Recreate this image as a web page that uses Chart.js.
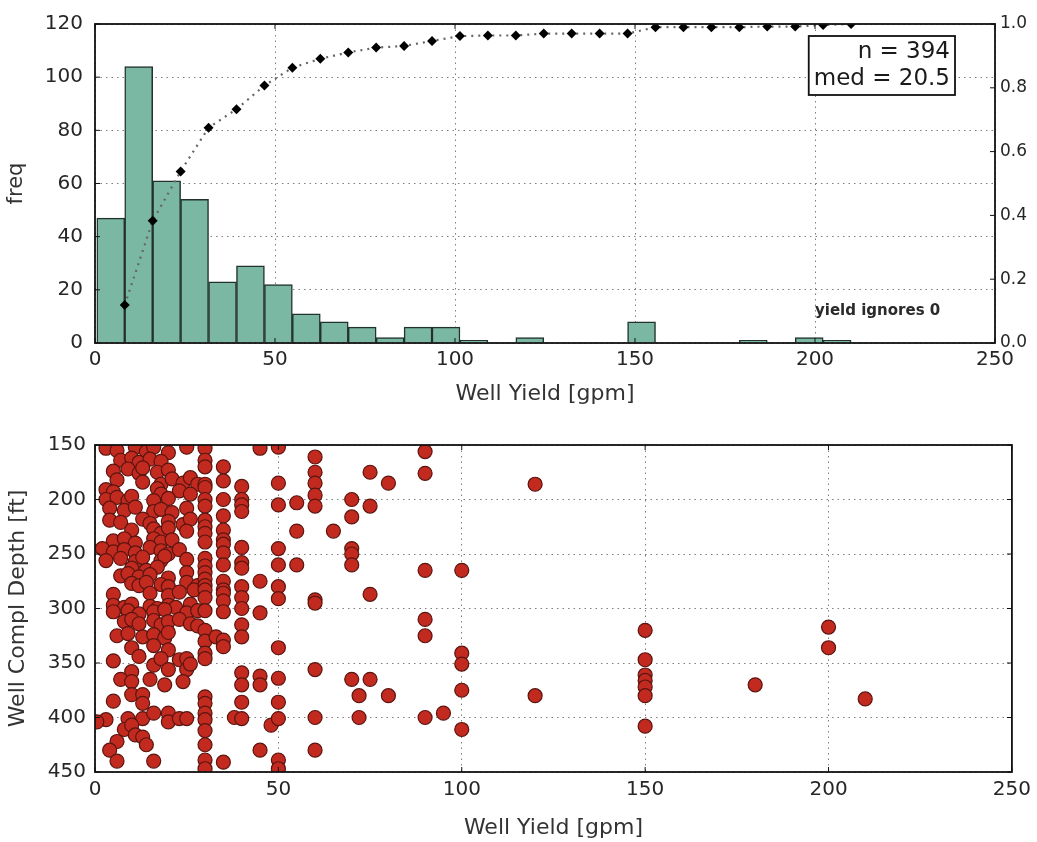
<!DOCTYPE html>
<html>
<head>
<meta charset="utf-8">
<script src="https://cdn.jsdelivr.net/npm/chart.js@4.4.1/dist/chart.umd.min.js"></script>
<style>
  body { margin: 0; background: #fff; }
  #wrap { position: relative; width: 1037px; height: 842px; }
  canvas { position: absolute; left: 0; }
  #histChart { top: 0; }
  #depthChart { top: 420px; }
</style>
</head>
<body>
<div id="wrap">
  <canvas id="histChart" width="1037" height="420"></canvas>
  <canvas id="depthChart" width="1037" height="422"></canvas>
</div>
<script>
// histogram bins (gpm) and counts
const binEdges = [0.5, 8.26, 16.02, 23.78, 31.54, 39.3, 47.06, 54.82, 62.58, 70.34, 78.1, 85.86, 93.62, 101.38,
  109.14, 116.9, 124.66, 132.42, 140.18, 147.94, 155.7, 163.46, 171.22, 178.98, 186.74, 194.5, 202.26, 210.02];
const binCounts = [47, 104, 61, 54, 23, 29, 22, 11, 8, 6, 2, 6, 6, 1, 0, 2, 0, 0, 0, 8, 0, 0, 0, 1, 0, 2, 1];
// cumulative fraction at each bin's right edge
const cdfValues = [0.119, 0.383, 0.538, 0.675, 0.733, 0.807, 0.863, 0.891, 0.911, 0.926, 0.931, 0.947, 0.962,
  0.964, 0.964, 0.970, 0.970, 0.970, 0.970, 0.990, 0.990, 0.990, 0.990, 0.992, 0.992, 0.997, 1.0];

const sampleCount = 394;
const medianYield = 20.5;

const yieldTicks = [0, 50, 100, 150, 200, 250];
const freqTicks = [0, 20, 40, 60, 80, 100, 120];
const cdfTicks = [0, 0.2, 0.4, 0.6, 0.8, 1.0];
const depthTicks = [150, 200, 250, 300, 350, 400, 450];

// [yield gpm, completion depth ft]
const yieldDepthPairs = [
  [3,153],[6,155],[11,152],[14,156],[16,152],[20,157],[25,152],
  [7,164],[10,162],[12,166],[15,163],[18,165],
  [5,174],[9,172],[12,176],[13,171],[17,175],[20,173],
  [6,182],[13,184],[18,186],[21,181],[24,185],[26,180],[28,186],
  [3,191],[5,193],[17,190],[18,195],[23,192],[26,195],
  [3,200],[6,198],[9,201],[10,197],[16,201],[20,199],
  [4,208],[8,210],[11,207],[16,211],[18,209],[21,212],[25,208],
  [4,219],[7,221],[13,218],[15,222],[20,220],[24,223],[26,218],
  [10,228],[16,227],[18,231],[20,226],[25,229],
  [5,238],[8,236],[11,240],[16,236],[18,239],[21,237],
  [2,245],[5,248],[8,246],[11,249],[15,244],[18,247],[20,250],[23,246],
  [3,256],[7,254],[11,257],[13,253],[18,256],[19,252],[25,255],
  [10,263],[14,265],[17,262],[25,267],
  [7,270],[9,268],[12,271],[15,269],[20,272],
  [10,277],[12,279],[14,276],[18,278],[20,280],[25,276],[28,279],
  [5,287],[15,286],[20,288],[23,285],[27,283],
  [5,297],[8,299],[10,296],[15,298],[17,300],[20,297],[22,299],[26,296],
  [5,303],[9,302],[12,305],[16,303],[19,301],[25,304],[28,302],
  [8,312],[10,310],[12,314],[16,311],[18,315],[20,312],[23,310],[26,314],[28,316],
  [6,325],[9,323],[13,326],[16,324],[19,327],[20,322],
  [10,336],[16,334],[20,338],
  [5,348],[12,344],[10,358],[16,352],[18,346],[20,356],[23,347],[25,346],[25,356],[26,351],
  [7,365],[10,367],[15,365],[19,370],[24,367],
  [10,379],[13,379],[13,387],[5,385],
  [3,402],[9,401],[13,401],[16,396],[20,396],[20,404],[23,401],[25,401],[0.5,404],
  [8,411],[10,407],[11,416],[13,418],[6,422],[14,425],[4,430],
  [6,440],[16,440],
  [30,153],[30,164],[30,170],[30,186],[30,189],[30,200],[30,206],[30,219],[30,225],[30,231],[30,239],
  [30,254],[30,261],[30,267],[30,273],[30,279],[30,283],[30,290],[30,302],[30,320],[30,330],[30,341],
  [30,346],[30,381],[30,387],[30,396],[30,402],[30,412],[30,425],[30,439],[30,447],
  [33,326],
  [35,170],[35,183],[35,200],[35,215],[35,228],[35,237],[35,241],[35,249],[35,260],[35,275],[35,283],
  [35,286],[35,293],[35,303],[35,329],[35,335],[35,441],
  [38,400],
  [40,188],[40,200],[40,205],[40,211],[40,244],[40,258],[40,263],[40,280],[40,290],[40,300],[40,315],
  [40,326],[40,359],[40,370],[40,386],[40,401],
  [45,153],[45,275],[45,304],[45,362],[45,370],[45,430],
  [48,407],
  [50,152],[50,185],[50,205],[50,245],[50,260],[50,280],[50,291],[50,336],[50,364],[50,386],[50,401],
  [50,439],[50,447],
  [55,203],[55,229],[55,260],
  [60,161],[60,175],[60,185],[60,196],[60,206],[60,292],[60,295],[60,356],[60,400],[60,430],
  [65,229],
  [70,200],[70,216],[70,245],[70,250],[70,260],[70,365],
  [72,380],[72,400],
  [75,175],[75,206],[75,287],[75,365],
  [80,185],[80,380],
  [90,156],[90,176],[90,265],[90,310],[90,325],[90,400],
  [95,396],
  [100,265],[100,341],[100,351],[100,375],[100,411],
  [120,186],[120,380],
  [150,320],[150,347],[150,361],[150,366],[150,372],[150,380],[150,408],
  [180,370],
  [200,317],[200,336],
  [210,383]
];

Chart.defaults.font.family = '"DejaVu Sans", sans-serif';
const gridColor = 'rgba(0,0,0,0.5)';
const tickColor = '#262626';
const titleColor = '#333';

const fixedTicks = (arr) => (scale) => { scale.ticks = arr.map(v => ({ value: v })); };

// black frame round the plot area with matplotlib-style inward ticks
const framePlugin = {
  id: 'frame',
  afterDraw(chart, args, opts) {
    const { ctx, chartArea: a } = chart;
    ctx.save();
    ctx.strokeStyle = '#111';
    ctx.lineWidth = 1;
    const tl = 5;
    Object.values(chart.scales).forEach(s => {
      s.ticks.forEach(t => {
        const p = s.getPixelForValue(t.value);
        ctx.beginPath();
        if (s.isHorizontal()) {
          ctx.moveTo(p, a.bottom); ctx.lineTo(p, a.bottom - tl);
          ctx.moveTo(p, a.top); ctx.lineTo(p, a.top + tl);
        } else {
          if (s.position === 'left' || opts.bothY) {
            ctx.moveTo(a.left, p); ctx.lineTo(a.left + tl, p);
          }
          if (s.position === 'right' || opts.bothY) {
            ctx.moveTo(a.right, p); ctx.lineTo(a.right - tl, p);
          }
        }
        ctx.stroke();
      });
    });
    ctx.lineWidth = 1.8;
    ctx.strokeRect(a.left, a.top, a.right - a.left, a.bottom - a.top);
    ctx.restore();
  }
};

// n / median box and the note, placed in axes fractions
const statsPlugin = {
  id: 'stats',
  afterDraw(chart) {
    const { ctx, chartArea: a } = chart;
    const w = a.right - a.left, h = a.bottom - a.top;
    ctx.save();
    ctx.font = '23px "DejaVu Sans"';
    ctx.textAlign = 'right';
    ctx.textBaseline = 'middle';
    const lines = ['n = ' + sampleCount, 'med = ' + medianYield];
    const boxRight = a.right - 40, boxTop = a.top + 12;
    const boxW = Math.max(...lines.map(l => ctx.measureText(l).width)) + 10;
    const boxH = 59;
    ctx.fillStyle = '#fff';
    ctx.fillRect(boxRight - boxW, boxTop, boxW, boxH);
    ctx.strokeStyle = '#111';
    ctx.lineWidth = 1.8;
    ctx.strokeRect(boxRight - boxW, boxTop, boxW, boxH);
    ctx.fillStyle = '#1a1a1a';
    ctx.fillText(lines[0], boxRight - 5, boxTop + 16);
    ctx.fillText(lines[1], boxRight - 5, boxTop + 43);

    ctx.font = 'bold 15px "DejaVu Sans"';
    ctx.textAlign = 'left';
    ctx.fillStyle = '#2a2a2a';
    ctx.fillText('yield ignores 0', a.left + 0.8 * w, a.top + 0.9 * h);
    ctx.restore();
  }
};

const barPoints = binCounts.map((c, i) => ({ x: (binEdges[i] + binEdges[i + 1]) / 2, y: c }));
const cdfPoints = cdfValues.map((v, i) => ({ x: binEdges[i + 1], y: v }));

new Chart(document.getElementById('histChart'), {
  type: 'bar',
  data: {
    datasets: [
      {
        type: 'line',
        data: cdfPoints,
        yAxisID: 'y2',
        borderColor: '#666',
        borderWidth: 2.2,
        borderDash: [2, 5],
        pointStyle: 'rectRot',
        pointRadius: 5,
        pointBackgroundColor: '#000',
        pointBorderColor: '#000',
        pointBorderWidth: 0,
        fill: false,
        tension: 0,
        order: 0
      },
      {
        type: 'bar',
        data: barPoints,
        yAxisID: 'y',
        backgroundColor: '#7ab8a4',
        borderColor: '#24322e',
        borderWidth: 1.5,
        categoryPercentage: 1,
        barPercentage: 1,
        order: 1
      }
    ]
  },
  options: {
    responsive: false,
    animation: false,
    devicePixelRatio: 1,
    layout: { padding: { top: 21, left: 0, right: 0, bottom: 0 } },
    plugins: {
      legend: { display: false },
      tooltip: { enabled: false },
      frame: { bothY: false }
    },
    scales: {
      x: {
        type: 'linear', min: 0, max: 250, offset: false, z: 1,
        afterBuildTicks: fixedTicks(yieldTicks),
        afterFit: (s) => { s.height = 77; },
        grid: { offset: false, color: gridColor, lineWidth: 1, drawTicks: false },
        border: { display: false, dash: [1.5, 4] },
        ticks: { font: { size: 20 }, color: tickColor, padding: 5, maxRotation: 0, autoSkip: false },
        title: { display: true, text: 'Well Yield [gpm]', font: { size: 22 }, color: titleColor,
                 padding: { top: 0, bottom: 13 } }
      },
      y: {
        position: 'left', min: 0, max: 120, z: 1,
        afterBuildTicks: fixedTicks(freqTicks),
        afterFit: (s) => { s.width = 95; },
        grid: { color: gridColor, lineWidth: 1, drawTicks: false },
        border: { display: false, dash: [1.5, 4] },
        ticks: { font: { size: 20 }, color: tickColor, padding: 12 },
        title: { display: true, text: 'freq', font: { size: 21 }, color: titleColor,
                 padding: { top: 4, bottom: 0 } }
      },
      y2: {
        position: 'right', min: 0, max: 1, z: 1,
        afterBuildTicks: fixedTicks(cdfTicks),
        afterFit: (s) => { s.width = 42; },
        grid: { display: false, drawTicks: false },
        border: { display: false },
        ticks: { font: { size: 17 }, color: tickColor, padding: 5, callback: (v) => v.toFixed(1) }
      }
    }
  },
  plugins: [framePlugin, statsPlugin]
});

new Chart(document.getElementById('depthChart'), {
  type: 'scatter',
  data: {
    datasets: [{
      data: yieldDepthPairs.map(([x, y]) => ({ x, y })),
      backgroundColor: '#c22a1f',
      borderColor: '#5a1510',
      borderWidth: 1.2,
      pointRadius: 7,
      clip: 0
    }]
  },
  options: {
    responsive: false,
    animation: false,
    devicePixelRatio: 1,
    layout: { padding: { top: 25, left: 0, right: 20, bottom: 0 } },
    plugins: {
      legend: { display: false },
      tooltip: { enabled: false },
      frame: { bothY: true }
    },
    scales: {
      x: {
        type: 'linear', min: 0, max: 250, z: 1,
        afterBuildTicks: fixedTicks(yieldTicks),
        afterFit: (s) => { s.height = 70; },
        grid: { color: gridColor, lineWidth: 1, drawTicks: false },
        border: { display: false, dash: [1.5, 4] },
        ticks: { font: { size: 20 }, color: tickColor, padding: 6, maxRotation: 0, autoSkip: false },
        title: { display: true, text: 'Well Yield [gpm]', font: { size: 22 }, color: titleColor,
                 padding: { top: 0, bottom: 1 } }
      },
      y: {
        type: 'linear', position: 'left', min: 150, max: 450, reverse: true, z: 1,
        afterBuildTicks: fixedTicks(depthTicks),
        afterFit: (s) => { s.width = 95; },
        grid: { color: gridColor, lineWidth: 1, drawTicks: false },
        border: { display: false, dash: [1.5, 4] },
        ticks: { font: { size: 20 }, color: tickColor, padding: 9 },
        title: { display: true, text: 'Well Compl Depth [ft]', font: { size: 22 }, color: titleColor,
                 padding: { top: 5, bottom: 0 } }
      }
    }
  },
  plugins: [framePlugin]
});
</script>
</body>
</html>
